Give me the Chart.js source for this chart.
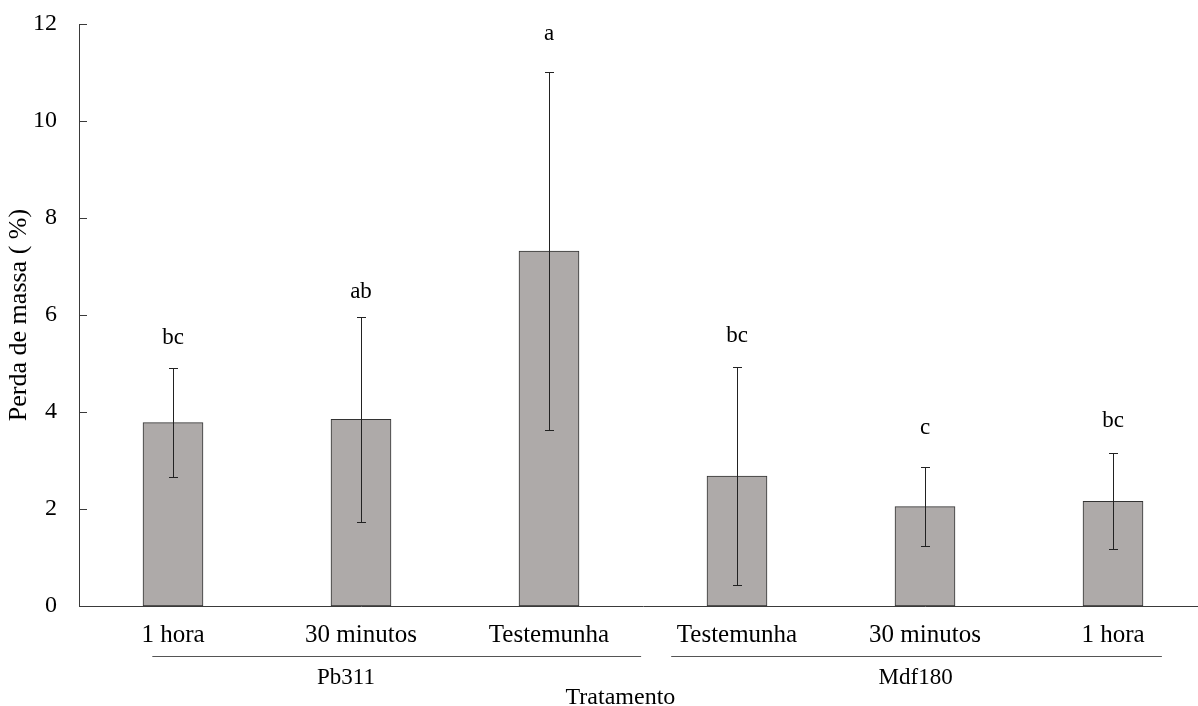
<!DOCTYPE html>
<html>
<head>
<meta charset="utf-8">
<script src="https://cdn.jsdelivr.net/npm/chart.js@4.4.0/dist/chart.umd.min.js"></script>
<style>
    html, body { margin: 0; padding: 0; background: #fff; overflow: hidden; }
    #wrap { width: 1208px; height: 706px; }
</style>
</head>
<body>
<div id="wrap"><canvas id="massChart"></canvas></div>
<script>
// data
const categories = ['1 hora', '30 minutos', 'Testemunha', 'Testemunha', '30 minutos', '1 hora'];
const massLoss = [3.78, 3.85, 7.32, 2.68, 2.05, 2.16];
const stdDev = [1.12, 2.11, 3.70, 2.25, 0.81, 0.99];
const letters = ['bc', 'ab', 'a', 'bc', 'c', 'bc'];
const groupNames = ['Pb311', 'Mdf180'];
const yTicks = [0, 2, 4, 6, 8, 10, 12];

const FONT = '"Liberation Serif", "Times New Roman", serif';
const AXIS = '#3a3a3a';

// error bars, letters, inside ticks, group brackets
const extras = {
    id: 'extras',
    afterDraw(chart) {
        const ctx = chart.ctx;
        const x = chart.scales.x;
        const y = chart.scales.y;
        const area = chart.chartArea;
        const meta = chart.getDatasetMeta(0);
        const letterGap = [25, 20, 33, 26, 34, 27];   /*px above whisker*/

        ctx.save();
        ctx.font = '23px ' + FONT;
        ctx.fillStyle = '#000';
        ctx.textAlign = 'center';
        ctx.textBaseline = 'alphabetic';

        meta.data.forEach((bar, i) => {
            const cx = Math.round(bar.x) + 0.5;
            const top = Math.round(y.getPixelForValue(massLoss[i] + stdDev[i])) + 0.5;
            const bot = Math.round(y.getPixelForValue(massLoss[i] - stdDev[i])) + 0.5;
            ctx.strokeStyle = '#222';
            ctx.lineWidth = 1;
            ctx.beginPath();
            ctx.moveTo(cx, top); ctx.lineTo(cx, bot);
            ctx.moveTo(cx - 4.5, top); ctx.lineTo(cx + 4.5, top);
            ctx.moveTo(cx - 4.5, bot); ctx.lineTo(cx + 4.5, bot);
            ctx.stroke();
            ctx.fillText(letters[i], bar.x, top - letterGap[i]);
        });

        // tick marks pointing into the plot
        ctx.strokeStyle = AXIS;
        ctx.beginPath();
        yTicks.forEach(v => {
            const py = Math.round(y.getPixelForValue(v)) + 0.5;
            ctx.moveTo(area.left, py);
            ctx.lineTo(area.left + 8, py);
        });
        ctx.stroke();

        // group lines + names (in category index units)
        const spans = [
            { from: -0.11, to: 2.49, labelAt: 0.92 },
            { from: 2.65, to: 5.26, labelAt: 3.95 }
        ];
        const base = area.bottom;
        ctx.strokeStyle = '#555';
        ctx.font = '23px ' + FONT;
        spans.forEach((s, i) => {
            ctx.beginPath();
            ctx.moveTo(x.getPixelForValue(s.from), base + 50.5);
            ctx.lineTo(x.getPixelForValue(s.to), base + 50.5);
            ctx.stroke();
            ctx.fillText(groupNames[i], x.getPixelForValue(s.labelAt), base + 78);
        });
        ctx.font = '24px ' + FONT;
        ctx.fillText('Tratamento', x.getPixelForValue(2.38), base + 98);
        ctx.restore();
    }
};

new Chart(document.getElementById('massChart'), {
    type: 'bar',
    data: {
        labels: categories,
        datasets: [{
            data: massLoss,
            backgroundColor: '#aeaaa9',
            borderColor: '#333333',
            borderWidth: 1,
            borderSkipped: false,
            barThickness: 60
        }]
    },
    options: {
        responsive: true,
        maintainAspectRatio: false,
        animation: false,
        events: [],
        layout: { padding: { left: 0, top: 24, right: 1, bottom: 0 } },
        plugins: {
            legend: { display: false },
            tooltip: { enabled: false }
        },
        scales: {
            x: {
                grid: { display: false, drawTicks: false },
                border: { display: true, color: AXIS, width: 1 },
                ticks: {
                    color: '#000',
                    font: { family: FONT, size: 25 },
                    padding: 14,
                    maxRotation: 0,
                    autoSkip: false
                },
                afterFit(scale) { scale.height = 100; }
            },
            y: {
                min: 0,
                max: 12,
                afterBuildTicks(scale) { scale.ticks = yTicks.map(v => ({ value: v })); },
                grid: { display: false, drawTicks: false },
                border: { display: true, color: AXIS, width: 1 },
                ticks: {
                    color: '#000',
                    font: { family: FONT, size: 24 },
                    padding: 22
                },
                title: {
                    display: true,
                    text: 'Perda de massa ( %)',
                    color: '#000',
                    font: { family: FONT, size: 26 },
                    padding: { top: 4, bottom: 0 }
                },
                afterFit(scale) {
                    scale.width = 79;
                    scale.paddingTop = 0;       // tick padding otherwise pushes the plot down
                    scale.paddingBottom = 0;
                }
            }
        }
    },
    plugins: [extras]
});
</script>
</body>
</html>
